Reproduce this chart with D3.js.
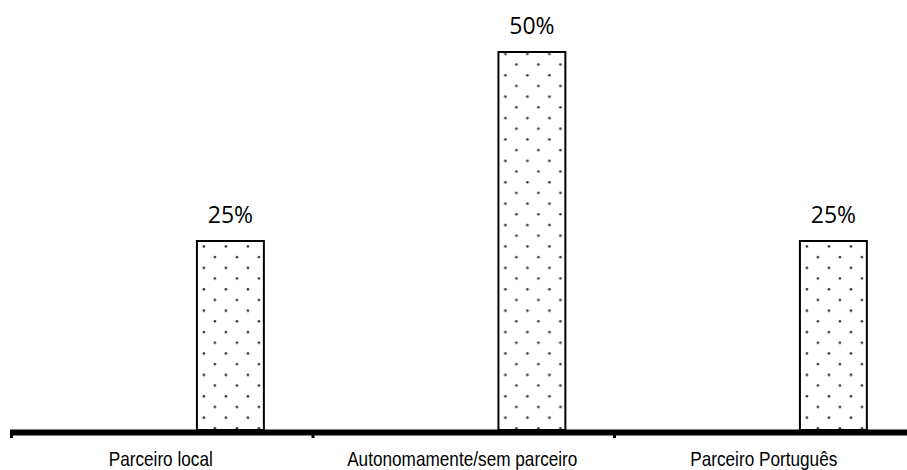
<!DOCTYPE html>
<html>
<head>
<meta charset="utf-8">
<script src="https://cdn.jsdelivr.net/npm/d3@7"></script>
<style>
  html, body { margin: 0; padding: 0; background: #fff; }
  svg { display: block; }
  .cat { font-family: "Liberation Sans", Arial, sans-serif; font-size: 20px; fill: #000; }
  .val { font-family: "Open Sans", Lato, "Noto Sans", sans-serif; font-size: 23px; fill: #000; }
</style>
</head>
<body>
<svg id="chart" width="907" height="470"></svg>
<script>
// Categories and share of responses (%)
const categories = ["Parceiro local", "Autonomamente/sem parceiro", "Parceiro Português"];
const values = [25, 50, 25];
const valueLabels = ["25%", "50%", "25%"];

const W = 907, H = 470;
const baseY = 430;
const svg = d3.select("#chart");

// Category bands along the baseline
const x = d3.scaleBand().domain(categories).range([10, 914.5]).paddingInner(0).paddingOuter(0);
const bw = x.bandwidth();
const barOffset = 0.62 * bw;
const barWidth = 0.222 * bw;

const y = d3.scaleLinear().domain([0, 50]).range([baseY, 52]);

// Sparse dot texture, anchored to each bar's base
const defs = svg.append("defs");
const pat = defs.append("pattern")
  .attr("id", "dots")
  .attr("patternUnits", "userSpaceOnUse")
  .attr("width", 22).attr("height", 21.4)
  .attr("x", 0).attr("y", 0);
pat.append("rect").attr("width", 22).attr("height", 21.4).attr("fill", "#fff");
pat.append("circle").attr("cx", 7).attr("cy", 9.1).attr("r", 1.3).attr("fill", "#333");
pat.append("circle").attr("cx", 18).attr("cy", 19.7).attr("r", 1.3).attr("fill", "#333");

const bars = svg.append("g").selectAll("g.bar")
  .data(categories.map((c, i) => ({ c, v: values[i], label: valueLabels[i] })))
  .join("g")
  .attr("class", "bar")
  .attr("transform", d => `translate(${x(d.c) + barOffset},${baseY})`);

bars.append("rect")
  .attr("x", 0)
  .attr("y", d => y(d.v) - baseY)
  .attr("width", barWidth)
  .attr("height", d => baseY - y(d.v))
  .attr("fill", "url(#dots)")
  .attr("stroke", "#000")
  .attr("stroke-width", 2);

bars.append("text")
  .attr("class", "val")
  .attr("x", barWidth / 2)
  .attr("y", d => y(d.v) - baseY - 18)
  .attr("text-anchor", "middle")
  .text(d => d.label);

// Baseline with boundary ticks
const axis = svg.append("g");
const [x0, x1] = x.range();
axis.append("line")
  .attr("x1", x0).attr("x2", x1)
  .attr("y1", baseY + 2.5).attr("y2", baseY + 2.5)
  .attr("stroke", "#000").attr("stroke-width", 6);
const edges = categories.map(c => x(c)).concat([x1]);
axis.selectAll("line.tick")
  .data(edges)
  .join("line")
  .attr("class", "tick")
  .attr("x1", d => d + 1.5).attr("x2", d => d + 1.5)
  .attr("y1", baseY + 2).attr("y2", baseY + 8)
  .attr("stroke", "#000").attr("stroke-width", 3);

// Condensed category labels
axis.selectAll("text.cat")
  .data(categories)
  .join("text")
  .attr("class", "cat")
  .attr("transform", d => `translate(${x(d) + bw / 2},466) scale(0.86,1)`)
  .attr("text-anchor", "middle")
  .text(d => d);
</script>
</body>
</html>
